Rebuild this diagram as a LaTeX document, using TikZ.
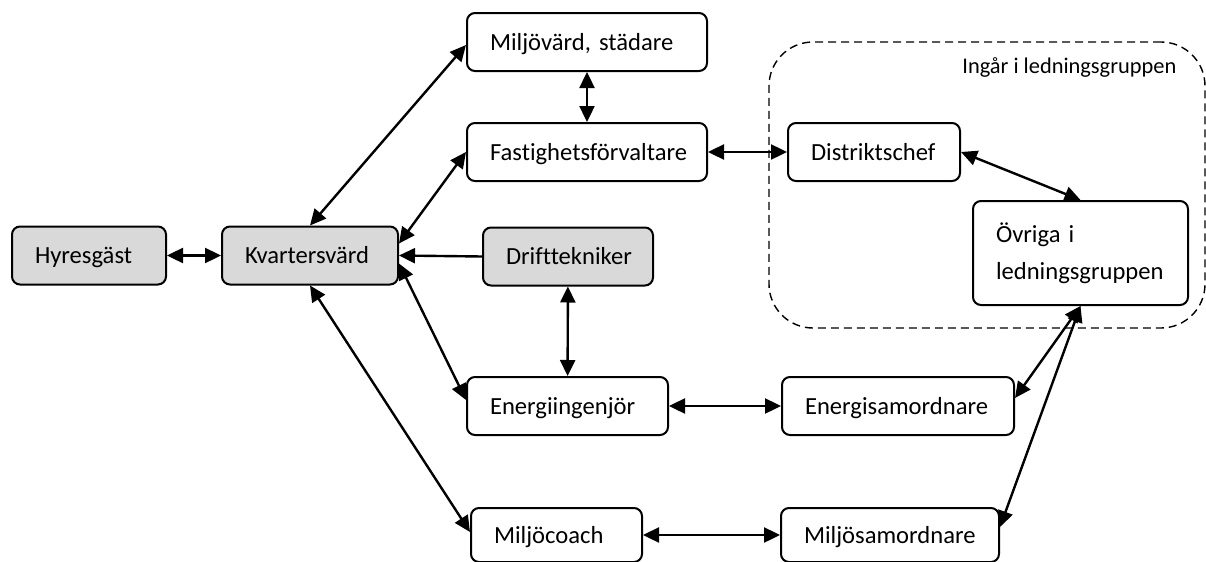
\documentclass[tikz,border=0pt]{standalone}
\usepackage{fontspec}
\setmainfont{Carlito}[Ligatures=NoCommon]
\usepackage{xcolor}
\usepackage{tikz}
\usetikzlibrary{shapes,arrows,positioning,calc,arrows.meta}
\definecolor{boxgray}{HTML}{D9D9D9}
\hyphenpenalty=10000
\frenchspacing

\begin{document}
\begin{tikzpicture}[x=0.5pt, y=-0.5pt,
    box/.style={rectangle, draw, line width=1pt, rounded corners=4pt, align=left, inner xsep=11.5pt, minimum height=29pt, text width=#1, text height=10pt, text depth=2pt, font=\fontsize{12.3}{18.5}\selectfont},
    greybox/.style={box=#1, fill=boxgray},
    group/.style={rectangle, draw, dashed, dash pattern=on 4pt off 2.5pt, line width=0.7pt, rounded corners=22pt},
    link/.style={line width=1.2pt, {Triangle[length=8pt,width=7.5pt]}-{Triangle[length=8pt,width=7.5pt]}},
    onelink/.style={line width=1.2pt, -{Triangle[length=8pt,width=7.5pt]}}]
    \useasboundingbox (0,0) rectangle (1206,562);

    \node[group, minimum width=218pt, minimum height=143pt] (grp) at (987,185) {};
    \node[anchor=base west, inner sep=0pt, font=\fontsize{11.2}{13}\selectfont] (grplabel) at (962,73) {Ingår i ledningsgruppen};

    \node[greybox=54pt] (hyr) at (89,255.5) {Hyresgäst};
    \node[greybox=65pt] (kv) at (310,255.5) {Kvartersvärd};
    \node[greybox=62pt] (drift) at (568,256.5) {Drifttekniker};
    \node[box=97pt] (mv) at (587,42) {Miljövärd, städare};
    \node[box=97pt] (fast) at (587,152) {Fastighetsförvaltare};
    \node[box=63pt] (dist) at (874,152) {Distriktschef};
    \node[box=84.5pt, text height=, text depth=, minimum height=52pt] (ovr) at (1080.5,253) {Övriga i\\ledningsgruppen};
    \node[box=77.5pt] (en) at (567.5,406) {Energiingenjör};
    \node[box=93pt] (es) at (898,406) {Energisamordnare};
    \node[box=62.5pt, minimum height=27pt] (mc) at (556.5,535) {Miljöcoach};
    \node[box=86pt, minimum height=27pt] (ms) at (890,535) {Miljösamordnare};

    \draw[link] (hyr) -- (kv);
    \draw[link] (kv.north) -- ([yshift=-1.5pt]mv.west);
    \draw[link] ([yshift=6pt]kv.east) -- (fast.west);
    \draw[onelink] (drift.west) -- (kv.east);
    \draw[link] ([yshift=-4pt]kv.east) -- ([yshift=3pt]en.west);
    \draw[link] (kv.south) -- ([yshift=1.5pt]mc.west);
    \draw[link] (mv) -- (fast);
    \draw[link] (fast) -- (dist);
    \draw[link] (dist.east) -- (ovr.north);
    \draw[link] (drift) -- (en);
    \draw[link] (en) -- (es);
    \draw[link] ([yshift=4pt]es.east) -- (ovr.south);
    \draw[link] (mc) -- (ms);
    \draw[link] ([yshift=4pt]ms.east) -- (ovr.south);
\end{tikzpicture}
\end{document}
